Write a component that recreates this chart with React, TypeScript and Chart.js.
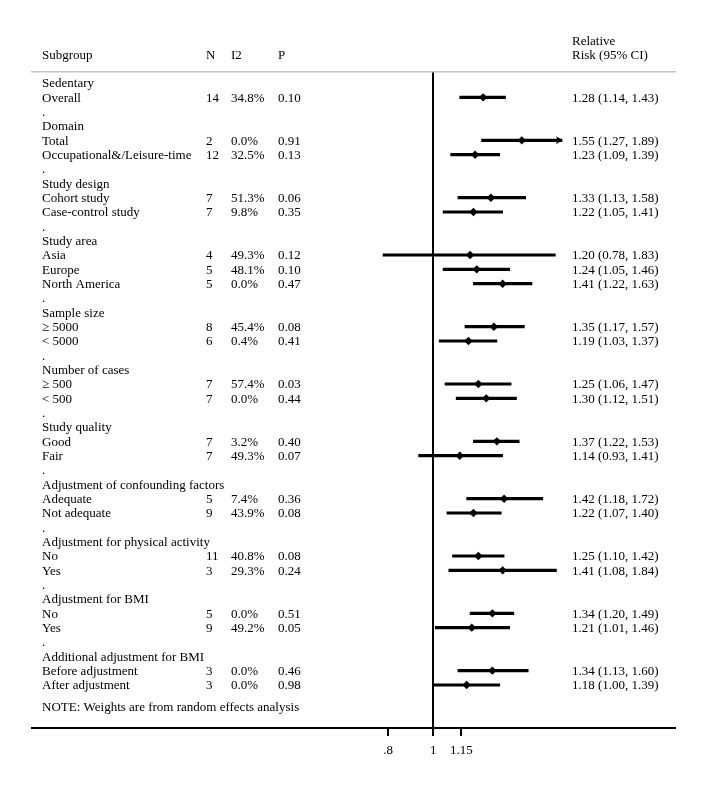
import React, { useEffect, useRef } from "react";
import { Chart, registerables } from "chart.js";

Chart.register(...registerables);

// ---- Data ----
const rowLabels = [
  "Sedentary", "Overall", ".",
  "Domain", "Total", "Occupational&/Leisure-time", ".",
  "Study design", "Cohort study", "Case-control study", ".",
  "Study area", "Asia", "Europe", "North America", ".",
  "Sample size", "\u2265 5000", "< 5000", ".",
  "Number of cases", "\u2265 500", "< 500", ".",
  "Study quality", "Good", "Fair", ".",
  "Adjustment of confounding factors", "Adequate", "Not adequate", ".",
  "Adjustment for physical activity", "No", "Yes", ".",
  "Adjustment for BMI", "No", "Yes", ".",
  "Additional adjustment for BMI", "Before adjustment", "After adjustment",
];

// row index (in rowLabels) of each estimate
const estRows = [1, 4, 5, 8, 9, 12, 13, 14, 17, 18, 21, 22, 25, 26, 29, 30, 33, 34, 37, 38, 41, 42];
const nValues = ["14", "2", "12", "7", "7", "4", "5", "5", "8", "6", "7", "7", "7", "7", "5", "9", "11", "3", "5", "9", "3", "3"];
const i2Values = ["34.8%", "0.0%", "32.5%", "51.3%", "9.8%", "49.3%", "48.1%", "0.0%", "45.4%", "0.4%", "57.4%", "0.0%", "3.2%", "49.3%", "7.4%", "43.9%", "40.8%", "29.3%", "0.0%", "49.2%", "0.0%", "0.0%"];
const pValues = ["0.10", "0.91", "0.13", "0.06", "0.35", "0.12", "0.10", "0.47", "0.08", "0.41", "0.03", "0.44", "0.40", "0.07", "0.36", "0.08", "0.08", "0.24", "0.51", "0.05", "0.46", "0.98"];
const rrValues = [1.28, 1.55, 1.23, 1.33, 1.22, 1.20, 1.24, 1.41, 1.35, 1.19, 1.25, 1.30, 1.37, 1.14, 1.42, 1.22, 1.25, 1.41, 1.34, 1.21, 1.34, 1.18];
const ciLow = [1.14, 1.27, 1.09, 1.13, 1.05, 0.78, 1.05, 1.22, 1.17, 1.03, 1.06, 1.12, 1.22, 0.93, 1.18, 1.07, 1.10, 1.08, 1.20, 1.01, 1.13, 1.00];
const ciHigh = [1.43, 1.89, 1.39, 1.58, 1.41, 1.83, 1.46, 1.63, 1.57, 1.37, 1.47, 1.51, 1.53, 1.41, 1.72, 1.40, 1.42, 1.84, 1.49, 1.46, 1.60, 1.39];
const arrowRows = [4]; // CI drawn with an arrow at its upper end

const xTicks = [0.8, 1, 1.15];
const xTickLabels = [".8", "1", "1.15"];
const xMin = 0.1372;
const xMax = 3.309;
const yMin = -0.77;
const yMax = 45.0;

const colHeaders = ["Subgroup", "N", "I2", "P"];
const rrHeader = ["Relative", "Risk (95% CI)"];
const noteText = "NOTE: Weights are from random effects analysis";

const FONT = '13px "Liberation Serif", "Times New Roman", serif';

const fmt = (v: number) => v.toFixed(2);

const textPlugin = {
  id: "forestText",
  afterDraw(chart: any) {
    const ctx = chart.ctx as CanvasRenderingContext2D;
    const ys = chart.scales.y;
    const xs = chart.scales.x;
    ctx.save();
    ctx.font = FONT;
    ctx.fillStyle = "#000";
    ctx.textBaseline = "middle";
    ctx.textAlign = "left";

    const colLabel = 42;
    const colN = 206;
    const colI2 = 231;
    const colP = 278;
    const colRR = 572;
    const dy = 1;
    const py = (v: number) => ys.getPixelForValue(v) + dy;

    // headers
    const hY = py(-1.97);
    ctx.fillText(colHeaders[0], colLabel, hY);
    ctx.fillText(colHeaders[1], colN, hY);
    ctx.fillText(colHeaders[2], colI2, hY);
    ctx.fillText(colHeaders[3], colP, hY);
    ctx.fillText(rrHeader[0], colRR, py(-2.95));
    ctx.fillText(rrHeader[1], colRR, hY);

    rowLabels.forEach((t, i) => {
      ctx.fillText(t, colLabel, py(i));
    });

    estRows.forEach((r, k) => {
      const y = py(r);
      ctx.fillText(nValues[k], colN, y);
      ctx.fillText(i2Values[k], colI2, y);
      ctx.fillText(pValues[k], colP, y);
      ctx.fillText(`${fmt(rrValues[k])} (${fmt(ciLow[k])}, ${fmt(ciHigh[k])})`, colRR, y);
    });

    ctx.fillText(noteText, colLabel, py(43.5));

    // arrows
    arrowRows.forEach((r) => {
      const k = estRows.indexOf(r);
      const tip = xs.getPixelForValue(ciHigh[k]);
      const y = ys.getPixelForValue(r);
      ctx.beginPath();
      ctx.moveTo(tip + 1, y);
      ctx.lineTo(tip - 6, y - 4);
      ctx.lineTo(tip - 4, y);
      ctx.lineTo(tip - 6, y + 4);
      ctx.closePath();
      ctx.fill();
    });
    ctx.restore();
  },
};

export default function App() {
  const ref = useRef<HTMLCanvasElement | null>(null);
  useEffect(() => {
    if (!ref.current) return;
    const chart = new Chart(ref.current, {
      type: "scatter",
      data: {
        datasets: [
          {
            type: "bar",
            indexAxis: "y",
            data: estRows.map((r, k) => ({ y: r, x: [ciLow[k], ciHigh[k]] })),
            backgroundColor: "#000",
            borderWidth: 0,
            barThickness: 2.5,
            xAxisID: "x",
            yAxisID: "y",
          } as any,
          {
            type: "scatter",
            data: estRows.map((r, k) => ({ x: rrValues[k], y: r })),
            pointStyle: "rectRot",
            pointRadius: 4.2,
            pointHoverRadius: 4.2,
            backgroundColor: "#000",
            borderColor: "#000",
            borderWidth: 0,
            xAxisID: "x",
            yAxisID: "y",
          } as any,
        ],
      },
      options: {
        animation: false,
        responsive: false,
        layout: { padding: { left: 32, right: 27, top: 72, bottom: 0 } },
        plugins: { legend: { display: false }, tooltip: { enabled: false } },
        events: [],
        scales: {
          x: {
            type: "logarithmic",
            position: "bottom",
            min: xMin,
            max: xMax,
            offset: false,
            afterBuildTicks: (s: any) => {
              s.ticks = xTicks.map((v) => ({ value: v }));
            },
            afterFit: (s: any) => {
              s.height = 59;
            },
            ticks: {
              autoSkip: false,
              maxRotation: 0,
              padding: 7,
              color: "#000",
              font: { family: '"Liberation Serif", "Times New Roman", serif', size: 13 },
              callback: (_v: any, i: number) => xTickLabels[i],
            },
            grid: {
              drawOnChartArea: true,
              offset: false,
              color: (c: any) => (c.tick && c.tick.value === 1 ? "#000" : "rgba(0,0,0,0)"),
              tickColor: "#000",
              tickLength: 8,
              lineWidth: 2,
            },
            border: { display: true, color: "#000", width: 2 },
          },
          x2: {
            type: "logarithmic",
            position: "top",
            min: xMin,
            max: xMax,
            afterFit: (s: any) => {
              s.height = 0;
            },
            ticks: { display: false },
            grid: { display: false },
            border: { display: true, color: "#c4c4c4", width: 1.5 },
          },
          y: {
            type: "linear",
            reverse: true,
            offset: false,
            grid: { offset: false },
            min: yMin,
            max: yMax,
            display: false,
          },
        },
      } as any,
      plugins: [textPlugin],
    });
    return () => chart.destroy();
  }, []);

  return (
    <div style={{ position: "absolute", left: 0, top: 0, width: 702, height: 787, background: "#fff" }}>
      <canvas ref={ref} width={702} height={787} style={{ display: "block", width: 702, height: 787 }} />
    </div>
  );
}
